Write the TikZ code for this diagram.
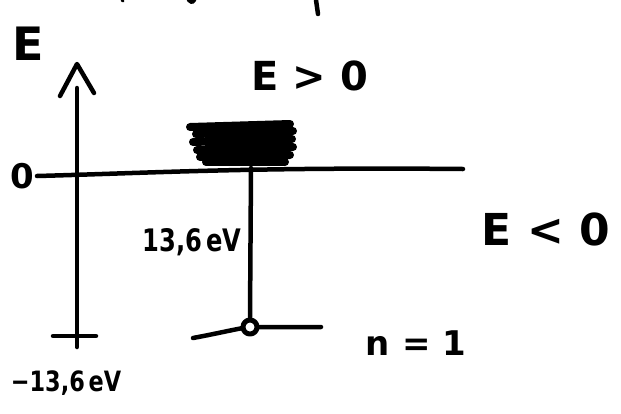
\documentclass[tikz,border=0pt]{standalone}
\usepackage{fontspec}
\setmainfont{DejaVu Sans}
\begin{document}
\begin{tikzpicture}[x=1pt,y=-1pt,line cap=round,line join=round,
  stroke/.style={line width=4.5pt},
  scrib/.style={line width=8pt},
  lbl/.style={inner sep=0pt,font=\bfseries}]
\useasboundingbox (0,0) rectangle (621,413);
% stray marks at the top edge
\draw[stroke] (316,0) -- (318,14);
\draw[stroke] (189,0) -- (192,2) -- (194,0);
\draw[line width=3pt] (122,0) -- (123,1);
% labels
\node[lbl] (Elab) at (28,44) {\fontsize{46}{46}\selectfont E};
\node[lbl] (Egt) at (310,76) {\fontsize{40}{40}\selectfont E > 0};
\node[lbl] (zero) at (22,176) {\fontsize{34}{34}\selectfont 0};
\node[lbl,xscale=0.78] (e13) at (192,242) {\fontsize{31}{31}\selectfont 13,6\,eV};
\node[lbl] (n1) at (416,343) {\fontsize{34}{34}\selectfont n = 1};
\node[lbl] (Elt) at (546,229) {\fontsize{44}{44}\selectfont E < 0};
\node[lbl,xscale=0.8] (m13) at (66,383) {\fontsize{28}{28}\selectfont −13,6\,eV};
% coordinates
\coordinate (zl) at (37,176);
\coordinate (zr) at (463,169);
\coordinate (ab) at (77,347);
\coordinate (at) at (77,88);
\coordinate (ht) at (77,64);
\coordinate (hl) at (60,96);
\coordinate (hr) at (94,93);
\coordinate (tl) at (53,336);
\coordinate (tr) at (96,336);
\coordinate (gl) at (193,338);
\coordinate (gr) at (321,327);
\coordinate (vt) at (251,168);
% continuum scribble
\fill (205,128) rectangle (286,160);
\draw[scrib] (190,127) -- (290,124);
\draw[scrib] (196,134) -- (293,131);
\draw[scrib] (193,142) -- (292,139);
\draw[scrib] (197,150) -- (293,147);
\draw[scrib] (200,157) -- (290,155);
\draw[scrib] (206,162) -- (285,162);
% zero line
\draw[stroke] (zl) .. controls (150,173) and (250,167) .. (zr);
% energy axis
\draw[stroke] (ab) -- (at);
\draw[stroke] (hl) -- (ht) -- (hr);
\draw[stroke] (tl) -- (tr);
% ground level
\draw[stroke] (gl) .. controls (220,333) and (240,328) .. (250,327) -- (gr);
\node[circle,draw,line width=5pt,fill=white,minimum size=14pt,inner sep=0pt] (gs) at (250,327) {};
\draw[stroke] (vt) -- (gs.north);
\end{tikzpicture}
\end{document}
